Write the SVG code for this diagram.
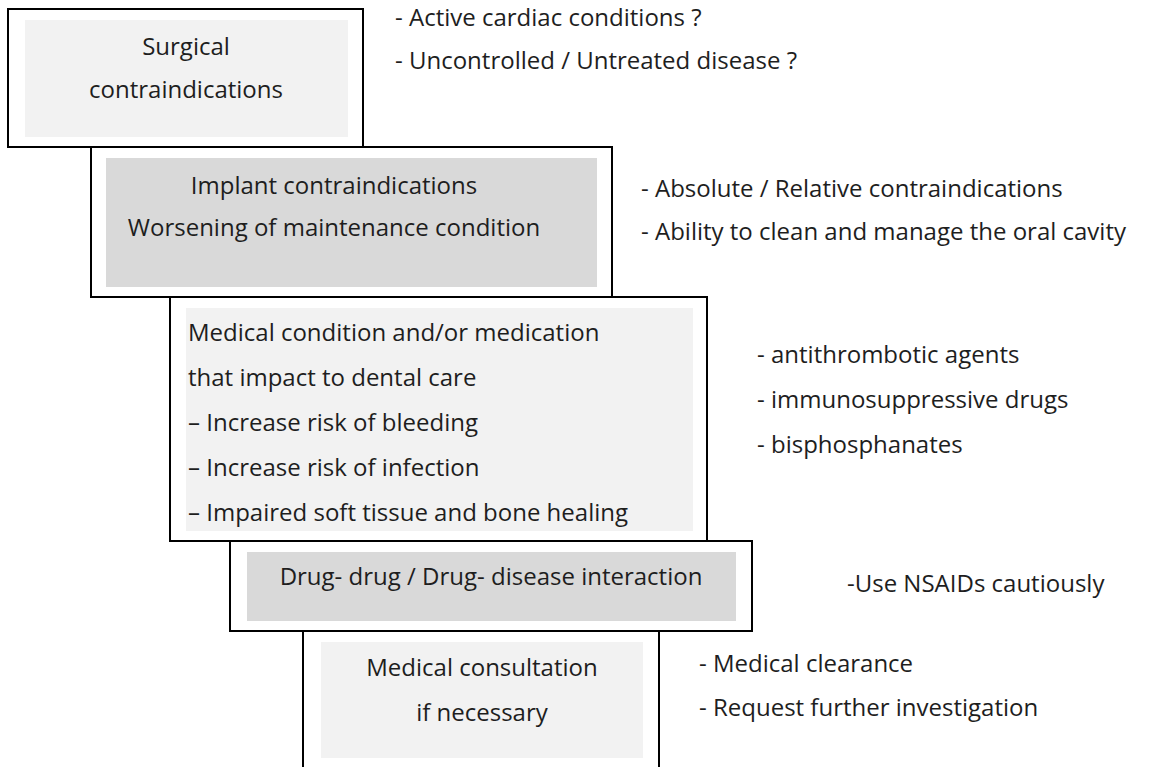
<svg xmlns="http://www.w3.org/2000/svg" width="1149" height="767" viewBox="0 0 1149 767">
<style>
.frame{fill:#ffffff;stroke:#000;stroke-width:2}
.light{fill:#f2f2f2}
.dark{fill:#d9d9d9}
text{font-family:"Open Sans","Noto Sans","Liberation Sans",sans-serif;font-size:24px;fill:#1e1e1e}
.c{text-anchor:middle}
</style>
<rect width="1149" height="767" fill="#ffffff"/>
<g id="connectors"></g>
<g id="node-surgical">
<rect class="frame" x="8" y="9" width="355" height="138"/>
<rect class="light" x="25" y="20" width="323" height="117"/>
<text class="c" x="186" y="55">Surgical</text>
<text class="c" x="186" y="98">contraindications</text>
</g>
<g id="note-surgical">
<text x="395" y="26">- Active cardiac conditions ?</text>
<text x="395" y="69">- Uncontrolled / Untreated disease ?</text>
</g>
<g id="node-implant">
<rect class="frame" x="91" y="147" width="521" height="150"/>
<rect class="dark" x="106" y="158" width="491" height="129"/>
<text class="c" x="334" y="194">Implant contraindications</text>
<text class="c" x="334" y="236">Worsening of maintenance condition</text>
</g>
<g id="note-implant">
<text x="641" y="197">- Absolute / Relative contraindications</text>
<text x="641" y="240">- Ability to clean and manage the oral cavity</text>
</g>
<g id="node-medical">
<rect class="frame" x="170" y="297" width="537" height="244"/>
<rect class="light" x="186" y="308" width="507" height="223"/>
<text x="188" y="341">Medical condition and/or medication</text>
<text x="188" y="386">that impact to dental care</text>
<text x="188" y="431">– Increase risk of bleeding</text>
<text x="188" y="476">– Increase risk of infection</text>
<text x="188" y="521">– Impaired soft tissue and bone healing</text>
</g>
<g id="note-medical">
<text x="757" y="363">- antithrombotic agents</text>
<text x="757" y="408">- immunosuppressive drugs</text>
<text x="757" y="453">- bisphosphanates</text>
</g>
<g id="node-drug">
<rect class="frame" x="230" y="541" width="522" height="90"/>
<rect class="dark" x="247" y="552" width="489" height="69"/>
<text class="c" x="491" y="585">Drug- drug / Drug- disease interaction</text>
</g>
<g id="note-drug">
<text x="847" y="592">-Use NSAIDs cautiously</text>
</g>
<g id="node-consult">
<rect class="frame" x="303" y="631" width="356" height="140"/>
<rect class="light" x="321" y="642" width="322" height="116"/>
<text class="c" x="482" y="676">Medical consultation</text>
<text class="c" x="482" y="721">if necessary</text>
</g>
<g id="note-consult">
<text x="699" y="672">- Medical clearance</text>
<text x="699" y="716">- Request further investigation</text>
</g>
</svg>
